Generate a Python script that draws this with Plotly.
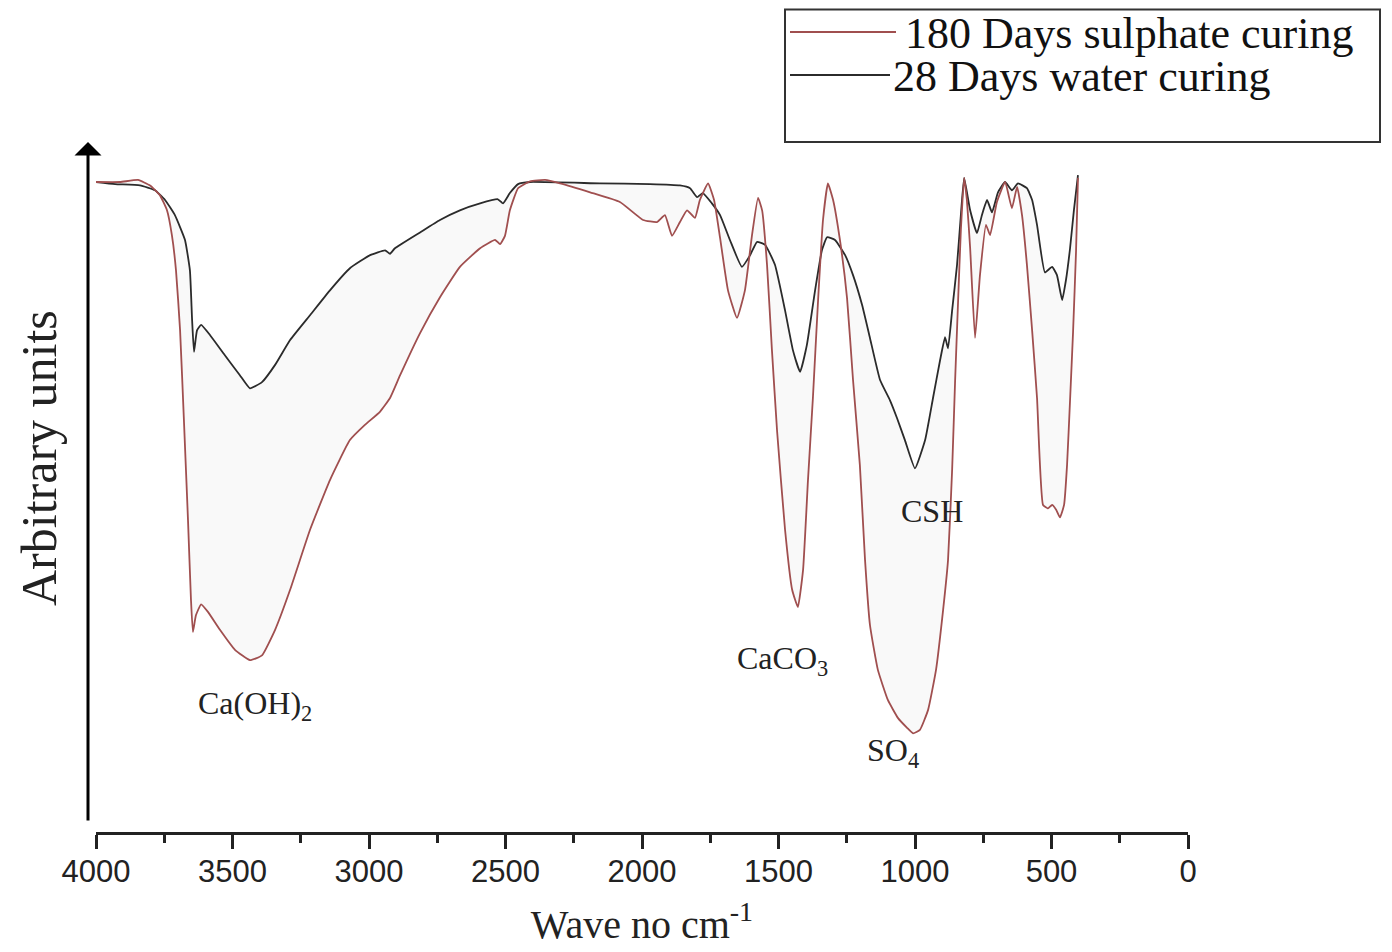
import plotly.graph_objects as go

# FTIR spectra (wavenumber in cm-1, arbitrary intensity)
water_wn = [4000, 3930, 3839, 3784, 3747, 3711, 3674, 3656, 3648, 3641, 3630, 3615, 3582, 3528,
            3473, 3436, 3392, 3344, 3289, 3216, 3143, 3070, 2996, 2941, 2923, 2905, 2813, 2740,
            2667, 2593, 2528, 2509, 2484, 2454, 2410, 2154, 1971, 1861, 1824, 1798, 1777, 1744,
            1714, 1678, 1634, 1604, 1579, 1549, 1513, 1476, 1447, 1421, 1396, 1366, 1341, 1322,
            1293, 1256, 1227, 1194, 1165, 1128, 1092, 1066, 1037, 1000, 963, 934, 908, 890, 879,
            864, 846, 832, 820, 798, 773, 755, 736, 718, 696, 670, 645, 623, 590, 571, 553, 524,
            498, 480, 461, 447, 432, 418, 403]
water_ab = [94.2, 93.9, 93.7, 93.0, 91.6, 89.4, 85.8, 81.4, 74.2, 69.6, 72.7, 73.5, 72.0, 69.1,
            66.2, 64.3, 65.2, 67.7, 71.3, 74.9, 78.5, 81.7, 83.6, 84.3, 83.8, 84.6, 86.9, 88.7,
            90.1, 91.1, 91.7, 91.1, 92.6, 93.9, 94.2, 94.0, 93.9, 93.7, 93.3, 92.0, 92.6, 91.1,
            89.4, 85.8, 81.9, 83.6, 85.5, 85.1, 82.2, 75.6, 69.8, 66.7, 70.6, 78.5, 84.3, 86.2,
            85.8, 83.6, 80.7, 76.4, 71.6, 65.5, 62.6, 60.0, 56.8, 52.7, 56.8, 62.9, 68.4, 71.7, 70.1,
            75.6, 82.2, 89.4, 94.8, 90.1, 86.8, 89.4, 91.6, 89.8, 92.7, 94.2, 93.0, 94.0, 93.3, 91.6, 88.0, 81.1,
            81.9, 80.7, 77.1, 80.0, 84.6, 90.1, 95.2]

sulph_wn = [4000, 3912, 3846, 3802, 3766, 3740, 3722, 3707, 3692, 3678, 3663, 3652, 3645, 3634,
            3615, 3590, 3546, 3491, 3436, 3392, 3344, 3289, 3216, 3143, 3070, 3015, 2960, 2923,
            2886, 2813, 2740, 2667, 2593, 2538, 2520, 2502, 2484, 2454, 2410, 2355, 2300, 2190,
            2081, 1996, 1945, 1916, 1890, 1861, 1835, 1806, 1788, 1758, 1736, 1714, 1685, 1652,
            1623, 1597, 1575, 1560, 1542, 1524, 1505, 1476, 1450, 1429, 1410, 1392, 1374, 1355,
            1337, 1319, 1300, 1275, 1249, 1227, 1202, 1183, 1165, 1136, 1099, 1062, 1029, 1007,
            982, 952, 923, 897, 879, 864, 853, 842, 832, 820, 810, 798, 780, 762, 740, 725, 700,
            670, 645, 626, 608, 590, 571, 553, 531, 513, 498, 483, 469, 454, 443, 432, 421, 410, 403]
sulph_ab = [94.2, 94.2, 94.5, 93.7, 92.3, 90.1, 86.5, 81.4, 72.7, 59.7, 45.2, 33.6, 29.0, 31.4,
            33.0, 31.9, 29.3, 26.4, 24.9, 25.6, 29.3, 35.1, 43.8, 51.0, 56.8, 59.0, 60.9, 62.9,
            66.2, 72.3, 77.5, 81.9, 84.6, 85.8, 85.2, 86.4, 90.1, 93.3, 94.3, 94.5, 94.0, 92.7,
            91.3, 88.7, 88.4, 89.4, 86.4, 88.4, 90.1, 89.0, 91.6, 94.0, 91.6, 86.1, 78.5, 74.5,
            78.5, 86.5, 91.9, 90.1, 82.2, 69.8, 58.0, 43.8, 35.1, 32.6, 38.0, 51.0, 62.9, 77.1,
            88.7, 94.0, 91.6, 85.8, 77.4, 65.5, 53.2, 39.4, 30.0, 23.5, 19.1, 16.5, 15.1, 14.3,
            14.8, 17.7, 23.5, 32.2, 39.4, 52.5, 65.5, 77.1, 87.2, 94.8, 91.6, 84.6, 71.6, 80.7, 88.0, 86.5, 91.3,
            94.2, 90.4, 93.5, 89.4, 82.2, 72.7, 62.9, 47.4, 46.9, 47.4, 46.7, 45.6, 47.4, 53.2, 62.6, 72.5, 84.3, 94.8]

series_names = ["180 Days sulphate curing", "28 Days water curing"]
peak_labels = ["Ca(OH)<sub>2</sub>", "CaCO<sub>3</sub>", "SO<sub>4</sub>", "CSH"]

RED = "#a04f4f"
DARK = "#2b2b2b"
SERIF = "Liberation Serif"
SANS = "Liberation Sans"

# the page adds an 8px body margin, so the figure is drawn 8px smaller and shifted
OFF = 8
W, H = 1392 - OFF, 952 - OFF
L, R, T, B = 96 - OFF, 204, 142 - OFF, 120


def px_x(px):
    return (px - OFF - L) / (W - L - R)


def px_y(py):
    return (H - B - (py - OFF)) / (H - T - B)


fig = go.Figure()
fig.add_trace(go.Scatter(x=water_wn, y=water_ab, mode="lines", name=series_names[1],
                         line=dict(color=DARK, width=1.8, shape="spline", smoothing=0.4)))
fig.add_trace(go.Scatter(x=sulph_wn, y=sulph_ab, mode="lines", name=series_names[0],
                         line=dict(color=RED, width=1.8, shape="spline", smoothing=0.4),
                         fill="tonexty", fillcolor="rgba(0,0,0,0.025)"))

fig.update_xaxes(range=[4000, 0], autorange=False, dtick=500, showgrid=False, zeroline=False,
                 showline=True, linewidth=3, linecolor="#222",
                 ticks="outside", ticklen=14, tickwidth=3, tickcolor="#222",
                 ticklabelstandoff=-4,
                 minor=dict(dtick=250, ticks="outside", ticklen=8, tickwidth=2.5, tickcolor="#222"),
                 tickfont=dict(family=SANS, size=31, color="#222"),
                 title=dict(text="Wave no cm<sup>-1</sup>", standoff=22,
                            font=dict(family=SERIF, size=40, color="#222")))
fig.update_yaxes(range=[0, 100], autorange=False, visible=False)

# y axis drawn as an arrow
fig.add_annotation(x=px_x(88), y=px_y(142), xref="paper", yref="paper", text="",
                   showarrow=True, axref="pixel", ayref="pixel", ax=0, ay=680,
                   arrowhead=1, arrowsize=1.5, arrowwidth=3, arrowcolor="#000")
fig.add_annotation(x=px_x(39), y=px_y(458), xref="paper", yref="paper", text="Arbitrary units",
                   textangle=-90, xanchor="center", yanchor="middle", showarrow=False,
                   font=dict(family=SERIF, size=50, color="#222"))

# peak labels
for txt, (cx, cy) in zip(peak_labels, [(255, 705), (782, 660), (893, 752), (932, 511)]):
    fig.add_annotation(x=px_x(cx), y=px_y(cy), xref="paper", yref="paper", text=txt,
                       xanchor="center", yanchor="middle", showarrow=False,
                       font=dict(family=SERIF, size=32, color="#222"))

# legend box drawn by hand to match the original layout
fig.add_shape(type="rect", xref="paper", yref="paper", x0=px_x(785), x1=px_x(1380),
              y0=px_y(142), y1=px_y(9.5), line=dict(color="#333", width=2))
fig.add_shape(type="line", xref="paper", yref="paper", x0=px_x(790), x1=px_x(896),
              y0=px_y(32), y1=px_y(32), line=dict(color=RED, width=2))
fig.add_shape(type="line", xref="paper", yref="paper", x0=px_x(790), x1=px_x(890),
              y0=px_y(75), y1=px_y(75), line=dict(color=DARK, width=2))
fig.add_annotation(x=px_x(903), y=px_y(33), xref="paper", yref="paper", text=series_names[0],
                   xanchor="left", yanchor="middle", showarrow=False,
                   font=dict(family=SERIF, size=44, color="#111"))
fig.add_annotation(x=px_x(891), y=px_y(76), xref="paper", yref="paper", text=series_names[1],
                   xanchor="left", yanchor="middle", showarrow=False,
                   font=dict(family=SERIF, size=44, color="#111"))

fig.update_layout(width=W, height=H, margin=dict(l=L, r=R, t=T, b=B, autoexpand=False),
                  showlegend=False, plot_bgcolor="white", paper_bgcolor="white")

fig.write_html("out.html")
